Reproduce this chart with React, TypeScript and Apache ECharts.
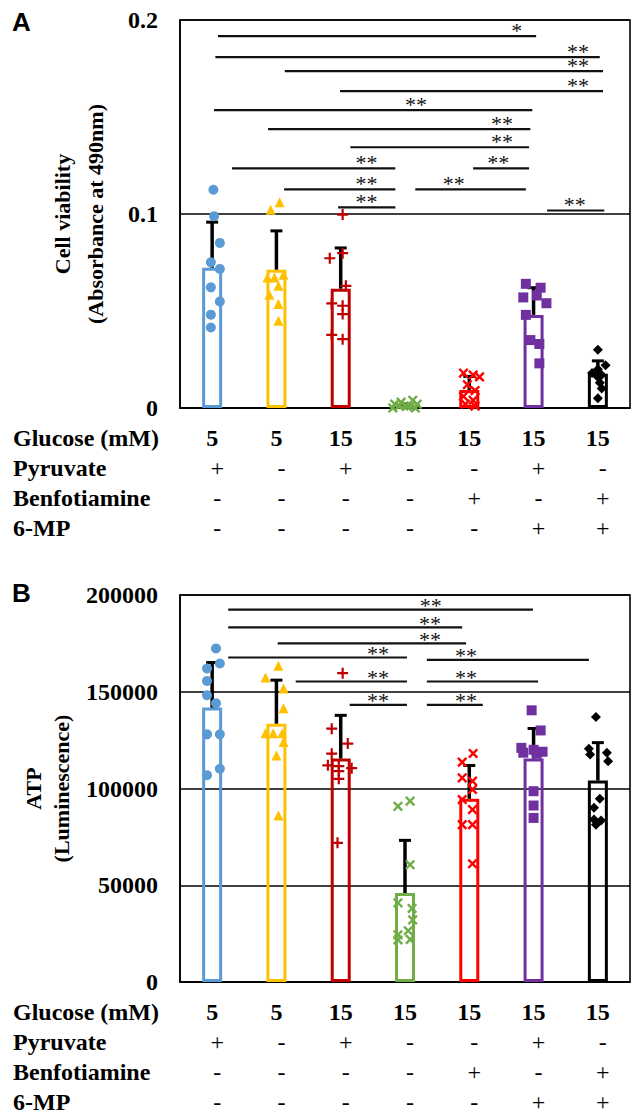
import React, { useEffect, useRef } from 'react';
import * as echarts from 'echarts';

// ---------- table under each panel ----------
const GLUCOSE = ['5', '5', '15', '15', '15', '15', '15'];
const PYRUVATE = ['+', '-', '+', '-', '-', '+', '-'];
const BENFOTIAMINE = ['-', '-', '-', '-', '+', '-', '+'];
const MP6 = ['-', '-', '-', '-', '-', '+', '+'];
const ROW_TITLES = ['Glucose (mM)', 'Pyruvate', 'Benfotiamine', '6-MP'];
const COLORS = ['#5B9BD5', '#FFC000', '#C00000', '#70AD47', '#FF0000', '#7030A0', '#000000'];

// ---------- Panel A: cell viability ----------
const A_MEAN = [0.0723, 0.0713, 0.0615, 0.001, 0.0093, 0.048, 0.0177];
const A_SD = [0.0235, 0.02, 0.021, 0.001, 0.007, 0.014, 0.0066];
const A_BLUE = [0.1125, 0.0989, 0.0851, 0.0751, 0.0717, 0.0622, 0.0549, 0.0481, 0.0415];
const A_YELLOW = [0.1061, 0.1022, 0.0687, 0.0673, 0.0673, 0.063, 0.0584, 0.0536, 0.045];
const A_DARKRED = [0.0997, 0.0798, 0.0772, 0.063, 0.0539, 0.0527, 0.0484, 0.0377, 0.0355];
const A_GREEN = [0.004, 0.003, 0.002, 0.002, 0.001, 0.001, 0.001, 0, 0];
const A_RED = [0.018, 0.017, 0.016, 0.012, 0.009, 0.006, 0.004, 0.002, 0.001];
const A_PURPLE = [0.064, 0.062, 0.058, 0.057, 0.054, 0.048, 0.035, 0.033, 0.023];
const A_BLACK = [0.03, 0.022, 0.02, 0.018, 0.017, 0.016, 0.013, 0.01, 0.005];
// horizontal spread of the dots around each bar (in category units)
const A_JITTER = [
  [0.02, 0.03, 0.12, -0.02, 0.12, -0.02, 0.12, -0.02, -0.02],
  [0.05, -0.09, 0.11, -0.14, -0.03, 0.03, -0.11, 0.03, 0.03],
  [0.03, 0.03, -0.17, 0.08, -0.14, 0.03, 0.03, -0.14, 0.03],
  [0.12, -0.06, 0.19, -0.16, 0.03, -0.09, 0.09, -0.19, 0.16],
  [-0.09, 0.06, 0.16, -0.03, 0.09, -0.09, 0.06, -0.06, 0.09],
  [-0.12, 0.11, 0.05, -0.16, 0.2, -0.12, -0.05, 0.09, 0.09],
  [0, 0.12, 0, -0.09, 0.06, 0, 0.03, 0.06, 0],
];
// significance bars: [from, to, level, label position, label]
const A_SIG: [number, number, number, number, string][] = [
  [0.09, 5.04, 0.1917, 4.74, '*'],
  [0.05, 6.03, 0.1809, 5.69, '**'],
  [1.13, 6.08, 0.1736, 5.69, '**'],
  [1.99, 6.08, 0.1633, 5.69, '**'],
  [0.03, 4.98, 0.1535, 3.17, '**'],
  [0.87, 4.95, 0.1437, 4.51, '**'],
  [2.15, 4.93, 0.1344, 4.51, '**'],
  [0.31, 2.85, 0.1235, 2.4, '**'],
  [4.06, 4.93, 0.1235, 4.45, '**'],
  [1.12, 2.85, 0.1127, 2.4, '**'],
  [3.16, 4.88, 0.1127, 3.76, '**'],
  [1.96, 2.85, 0.1034, 2.4, '**'],
  [5.21, 6.1, 0.1018, 5.64, '**'],
];

// ---------- Panel B: ATP ----------
const B_MEAN = [141800, 133500, 115500, 46000, 94700, 115500, 104100];
const B_SD = [23300, 22500, 22300, 27200, 17200, 15500, 19600];
const B_BLUE = [172400, 164600, 162000, 155600, 148200, 144000, 128000, 128000, 110200, 106900];
const B_YELLOW = [163400, 157400, 151700, 141500, 128500, 128500, 128500, 124000, 117100, 86000];
const B_DARKRED = [159600, 130900, 123200, 118000, 112000, 111600, 110500, 109000, 105000, 71900];
const B_GREEN = [93500, 90800, 60600, 40900, 38000, 32100, 26500, 24400, 22000, 21800];
const B_RED = [118100, 113600, 105500, 103800, 99500, 94300, 89100, 81300, 81300, 61100];
const B_PURPLE = [140400, 130000, 121000, 120000, 119000, 118500, 118000, 98600, 91200, 84800];
const B_BLACK = [136900, 120600, 118500, 117600, 114100, 94700, 90000, 84000, 83500, 81300];
const B_JITTER = [
  [0.06, 0.12, -0.08, -0.08, -0.08, 0.06, -0.08, 0.12, 0.12, -0.08],
  [0.03, -0.17, 0.11, 0.11, -0.17, -0.05, 0.09, 0.11, 0, 0.03],
  [0.03, -0.14, 0.11, -0.14, -0.2, -0.03, 0.17, -0.03, -0.03, -0.05],
  [0.08, -0.11, 0.08, -0.11, 0.11, 0.12, 0.05, -0.11, 0.08, -0.11],
  [0.06, -0.11, -0.11, 0.05, 0.05, -0.11, 0.05, -0.11, 0.05, 0.05],
  [-0.03, 0.11, -0.19, 0, 0.14, -0.16, 0.05, 0, 0, 0],
  [-0.03, -0.14, 0.14, -0.12, 0.16, 0.03, -0.06, -0.06, 0.05, -0.03],
];
const B_SIG: [number, number, number, number, string][] = [
  [0.25, 4.99, 192400, 3.4, '**'],
  [0.25, 3.89, 183300, 3.39, '**'],
  [1.02, 3.95, 175000, 3.39, '**'],
  [0.25, 3.03, 167700, 2.58, '**'],
  [3.34, 5.86, 166500, 3.95, '**'],
  [1.3, 3.03, 155300, 2.58, '**'],
  [3.34, 5.07, 155300, 3.95, '**'],
  [2.14, 3.03, 143200, 2.58, '**'],
  [3.34, 4.21, 143200, 3.95, '**'],
];

const SERIF = "'Liberation Serif','Times New Roman',serif";
const SANS = "'Liberation Sans',Arial,sans-serif";
const PLUS = 'path://M4,0H6V4H10V6H6V10H4V6H0V4H4Z';
const DIAMOND = 'path://M5,0L10,5L5,10L0,5Z';
const SYMBOLS = ['circle', 'triangle', PLUS, PLUS, PLUS, 'rect', DIAMOND];
const ROTATE = [0, 0, 0, 45, 45, 0, 0];
const SIZES = [10, 10, 11, 12, 12, 10, 10];

function panelSeries(
  p: number,
  means: number[],
  sds: number[],
  groups: number[][],
  jitter: number[][],
  sig: [number, number, number, number, string][],
  labelLift: number
) {
  const catAxis = p * 2;
  const valAxis = p * 2 + 1;
  const series: any[] = [];
  series.push({
    type: 'bar',
    xAxisIndex: catAxis,
    yAxisIndex: p,
    barWidth: 20,
    z: 2,
    data: means.map((m, i) => ({
      value: m,
      itemStyle: { color: 'rgba(0,0,0,0)', borderColor: COLORS[i], borderWidth: 3 },
    })),
  });
  series.push({
    type: 'custom',
    xAxisIndex: valAxis,
    yAxisIndex: p,
    z: 3,
    encode: { x: 0, y: [1, 2] },
    data: means.map((m, i) => [i, m, m + sds[i]]),
    renderItem: (_params: any, api: any) => {
      const a = api.coord([api.value(0), api.value(1)]);
      const b = api.coord([api.value(0), api.value(2)]);
      return {
        type: 'group',
        children: [
          { type: 'line', shape: { x1: a[0], y1: a[1], x2: b[0], y2: b[1] }, style: { stroke: '#000', lineWidth: 3.5 } },
          { type: 'line', shape: { x1: b[0] - 6, y1: b[1], x2: b[0] + 6, y2: b[1] }, style: { stroke: '#000', lineWidth: 3 } },
        ],
      };
    },
  });
  groups.forEach((vals, g) => {
    series.push({
      type: 'scatter',
      xAxisIndex: valAxis,
      yAxisIndex: p,
      z: 4,
      symbol: SYMBOLS[g],
      symbolRotate: ROTATE[g],
      symbolSize: SIZES[g],
      itemStyle: { color: COLORS[g], opacity: 1 },
      data: vals.map((v, k) => [g + jitter[g][k], v]),
    });
  });
  series.push({
    type: 'custom',
    xAxisIndex: valAxis,
    yAxisIndex: p,
    z: 5,
    encode: { x: [0, 1, 3], y: 2 },
    data: sig.map((s) => [s[0], s[1], s[2], s[3]]),
    renderItem: (params: any, api: any) => {
      const s = sig[params.dataIndex];
      const a = api.coord([s[0], s[2]]);
      const b = api.coord([s[1], s[2]]);
      const l = api.coord([s[3], s[2]]);
      return {
        type: 'group',
        children: [
          { type: 'line', shape: { x1: a[0], y1: a[1], x2: b[0], y2: b[1] }, style: { stroke: '#111', lineWidth: 2.2 } },
          {
            type: 'text',
            x: l[0],
            y: l[1] - labelLift,
            style: {
              text: s[4],
              font: `22px ${SERIF}`,
              lineHeight: 11,
              fill: '#111',
              align: 'center',
              verticalAlign: 'middle',
            },
          },
        ],
      };
    },
  });
  return series;
}

function catAxis(gridIndex: number) {
  return {
    type: 'category',
    gridIndex,
    data: GLUCOSE.map((_, i) => 'g' + i),
    axisTick: { show: false },
    axisLine: { show: true, onZero: false, lineStyle: { color: '#000', width: 1.6 } },
    splitLine: { show: false },
    axisLabel: {
      interval: 0,
      margin: 15,
      formatter: (_v: string, i: number) =>
        `{g|${GLUCOSE[i]}}\n{s|${PYRUVATE[i]}}\n{s|${BENFOTIAMINE[i]}}\n{s|${MP6[i]}}`,
      rich: {
        g: { fontFamily: SERIF, fontWeight: 'bold', fontSize: 24, lineHeight: 30, color: '#000', align: 'center' },
        s: { fontFamily: SERIF, fontSize: 24, lineHeight: 30, color: '#000', align: 'center', padding: [0, 0, 0, 10] },
      },
    },
  };
}

function valAxis(gridIndex: number) {
  return { type: 'value', gridIndex, min: -0.5, max: 6.5, show: false, axisLine: { onZero: false } };
}

function yAxis(gridIndex: number, max: number, interval: number, name: string, nameGap: number, lineHeight: number, fmt: (v: number) => string) {
  return {
    type: 'value',
    gridIndex,
    min: 0,
    max,
    interval,
    name,
    nameLocation: 'middle',
    nameRotate: 90,
    nameGap,
    nameTextStyle: { fontFamily: SERIF, fontWeight: 'bold', fontSize: 22, lineHeight, color: '#000' },
    axisLine: { show: true, onZero: false, lineStyle: { color: '#000', width: 1.6 } },
    axisTick: { show: false },
    splitLine: { show: true, lineStyle: { color: '#000', width: 1.6 } },
    axisLabel: { fontFamily: SERIF, fontWeight: 'bold', fontSize: 24, color: '#000', margin: 22, formatter: fmt },
  };
}

function rowTitles(axisY: number) {
  return ROW_TITLES.map((t, r) => ({
    type: 'text',
    x: 13,
    y: axisY + 30 + r * 30,
    style: { text: t, font: `bold 24px ${SERIF}`, fill: '#000', align: 'left', verticalAlign: 'middle' },
  }));
}

export default function App() {
  const ref = useRef<HTMLDivElement>(null);
  useEffect(() => {
    if (!ref.current) return;
    const chart = echarts.init(ref.current, undefined, { renderer: 'svg' });
    const option: any = {
      animation: false,
      backgroundColor: '#fff',
      grid: [
        { left: 180, top: 20, width: 450, height: 388, show: true, borderColor: '#000', borderWidth: 1.6, backgroundColor: 'transparent' },
        { left: 180, top: 595, width: 450, height: 387, show: true, borderColor: '#000', borderWidth: 1.6, backgroundColor: 'transparent' },
      ],
      xAxis: [catAxis(0), valAxis(0), catAxis(1), valAxis(1)],
      yAxis: [
        yAxis(0, 0.2, 0.1, 'Cell viability\n(Absorbance at 490nm)', 68, 33, (v) => (v === 0 ? '0' : v.toFixed(1))),
        yAxis(1, 200000, 50000, 'ATP\n(Luminescence)', 103, 28, (v) => String(v)),
      ],
      graphic: [
        { type: 'text', x: 12, y: 22, style: { text: 'A', font: `bold 26px ${SANS}`, fill: '#000', align: 'left', verticalAlign: 'middle' } },
        { type: 'text', x: 12, y: 593, style: { text: 'B', font: `bold 26px ${SANS}`, fill: '#000', align: 'left', verticalAlign: 'middle' } },
        ...rowTitles(408),
        ...rowTitles(982),
      ],
      series: [
        ...panelSeries(0, A_MEAN, A_SD, [A_BLUE, A_YELLOW, A_DARKRED, A_GREEN, A_RED, A_PURPLE, A_BLACK], A_JITTER, A_SIG, 6),
        ...panelSeries(1, B_MEAN, B_SD, [B_BLUE, B_YELLOW, B_DARKRED, B_GREEN, B_RED, B_PURPLE, B_BLACK], B_JITTER, B_SIG, 4),
      ],
    };
    chart.setOption(option);
    return () => chart.dispose();
  }, []);
  return <div ref={ref} style={{ position: 'fixed', left: 0, top: 0, width: 638, height: 1116 }} />;
}
